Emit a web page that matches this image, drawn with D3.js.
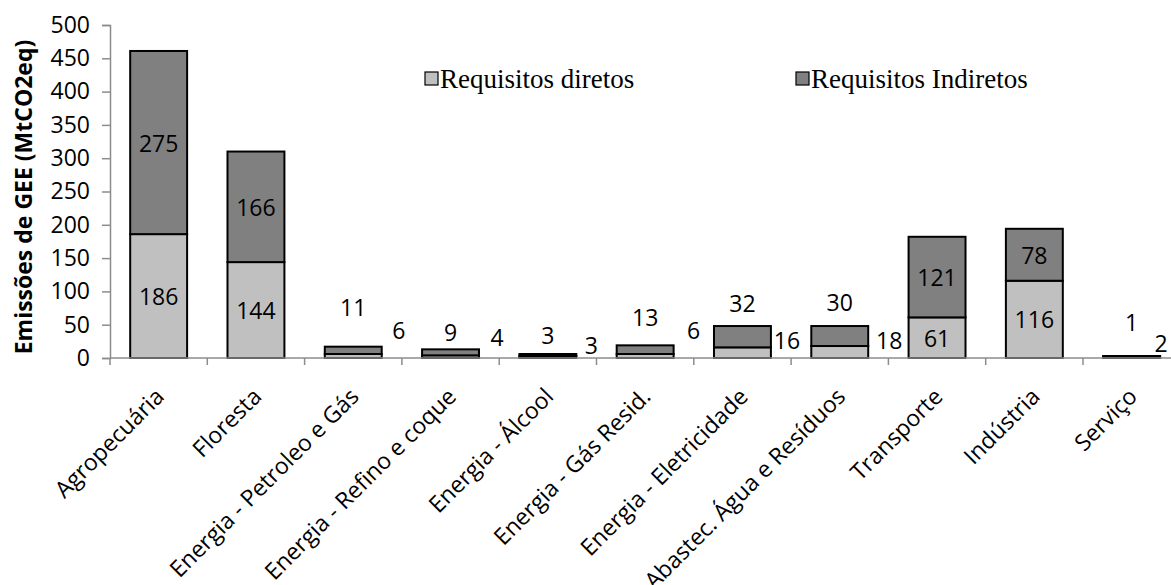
<!DOCTYPE html>
<html>
<head>
<meta charset="utf-8">
<script src="https://cdn.jsdelivr.net/npm/d3@7"></script>
<style>
  body { margin: 0; background: #ffffff; }
  svg { display: block; }
</style>
</head>
<body>
<svg id="chart" width="1171" height="585"></svg>
<script>
// Sector categories (x axis)
const categories = [
  "Agropecuária", "Floresta", "Energia - Petroleo e Gás", "Energia - Refino e coque",
  "Energia - Álcool", "Energia - Gás Resid.", "Energia - Eletricidade",
  "Abastec. Água e Resíduos", "Transporte", "Indústria", "Serviço"
];
// Emissions, MtCO2eq
const directReq = [186, 144, 6, 4, 3, 6, 16, 18, 61, 116, 2];
const indirectReq = [275, 166, 11, 9, 3, 13, 32, 30, 121, 78, 1];
const seriesNames = ["Requisitos diretos", "Requisitos Indiretos"];
const seriesColors = ["#c0c0c0", "#808080"];
const yTicks = [0, 50, 100, 150, 200, 250, 300, 350, 400, 450, 500];

// Placement of labels that sit outside short bars (px; null = centred inside segment)
const indirectLabelRise = [null, null, 51, 26, 23, 41, 55, 56, null, null, 36];
const directLabelSpot = [null, null, [17, 28], [18, 21], [15, 13], [20, 28], [16, 18], [21, 18], null, null, [1, 15]];

const svg = d3.select("#chart");
const fontSans = "'Open Sans', 'DejaVu Sans', sans-serif";

const x0 = 110, y0 = 358, yTop = 25, step = 97.3;
const x = d3.scaleBand()
  .domain(categories)
  .range([x0, x0 + step * categories.length])
  .paddingInner(0.415)
  .paddingOuter(0.2075);
const y = d3.scaleLinear().domain([0, 500]).range([y0, yTop]);

const rows = categories.map((c, i) => ({ c, i, d: directReq[i], n: indirectReq[i] }));

// Stacked bars
const stack = d3.stack().keys(["d", "n"])(rows);
const bw = x.bandwidth();
stack.forEach((layer, k) => {
  svg.append("g").selectAll("rect").data(layer).join("rect")
    .attr("x", p => x(p.data.c))
    .attr("y", p => y(p[1]))
    .attr("width", bw)
    .attr("height", p => y(p[0]) - y(p[1]))
    .attr("fill", seriesColors[k])
    .attr("stroke", "#000")
    .attr("stroke-width", 2);
});

// Y axis
const axisColor = "#8c8c8c";
const yAxis = svg.append("g").attr("transform", `translate(${x0},0)`)
  .call(d3.axisLeft(y).tickValues(yTicks).tickSize(8).tickPadding(12).tickFormat(d3.format("d")));
yAxis.select(".domain").attr("stroke", axisColor).attr("stroke-width", 1.5);
yAxis.selectAll(".tick line").attr("stroke", axisColor).attr("stroke-width", 1.5);
yAxis.selectAll(".tick text").attr("font-family", fontSans).attr("font-size", 23).attr("fill", "#000");

// X axis: baseline and boundary ticks
const xg = svg.append("g");
xg.append("line").attr("x1", x0).attr("x2", 1171).attr("y1", y0).attr("y2", y0)
  .attr("stroke", axisColor).attr("stroke-width", 1.5);
xg.selectAll("line.tk").data(d3.range(categories.length + 1)).join("line")
  .attr("class", "tk")
  .attr("x1", i => x.range()[0] + i * x.step())
  .attr("x2", i => x.range()[0] + i * x.step())
  .attr("y1", y0).attr("y2", y0 + 7)
  .attr("stroke", axisColor).attr("stroke-width", 1.5);

// Rotated category labels
xg.selectAll("text").data(categories).join("text")
  .attr("transform", c => `translate(${x(c) + bw / 2 + 7},${y0 + 40}) rotate(-45)`)
  .attr("text-anchor", "end")
  .attr("font-family", fontSans)
  .attr("font-size", 23)
  .text(c => c);

// Y axis title
svg.append("text")
  .attr("transform", `translate(32,197) rotate(-90)`)
  .attr("text-anchor", "middle")
  .attr("font-family", fontSans)
  .attr("font-weight", "bold")
  .attr("font-size", 23)
  .text("Emissões de GEE (MtCO2eq)");

// Value labels
const lbl = svg.append("g").attr("font-family", fontSans).attr("font-size", 23)
  .attr("text-anchor", "middle").attr("dominant-baseline", "central");
rows.forEach(r => {
  const cx = x(r.c) + bw / 2;
  if (directLabelSpot[r.i] === null) {
    lbl.append("text").attr("x", cx).attr("y", y(r.d / 2)).text(r.d);
  } else {
    const [dx, dy] = directLabelSpot[r.i];
    lbl.append("text").attr("x", x(r.c) + bw + dx).attr("y", y0 - dy).text(r.d);
  }
  if (indirectLabelRise[r.i] === null) {
    lbl.append("text").attr("x", cx).attr("y", y(r.d + r.n / 2)).text(r.n);
  } else {
    lbl.append("text").attr("x", cx).attr("y", y0 - indirectLabelRise[r.i]).text(r.n);
  }
});

// Legend
const legendX = [425, 796];
const lg = svg.append("g");
seriesNames.forEach((name, k) => {
  lg.append("rect").attr("x", legendX[k]).attr("y", 72).attr("width", 13).attr("height", 13)
    .attr("fill", seriesColors[k]).attr("stroke", "#000").attr("stroke-width", 1.2);
  lg.append("text").attr("x", legendX[k] + 15).attr("y", 88)
    .attr("font-family", "'Liberation Serif', 'Times New Roman', serif")
    .attr("font-size", 27)
    .text(name);
});
</script>
</body>
</html>
